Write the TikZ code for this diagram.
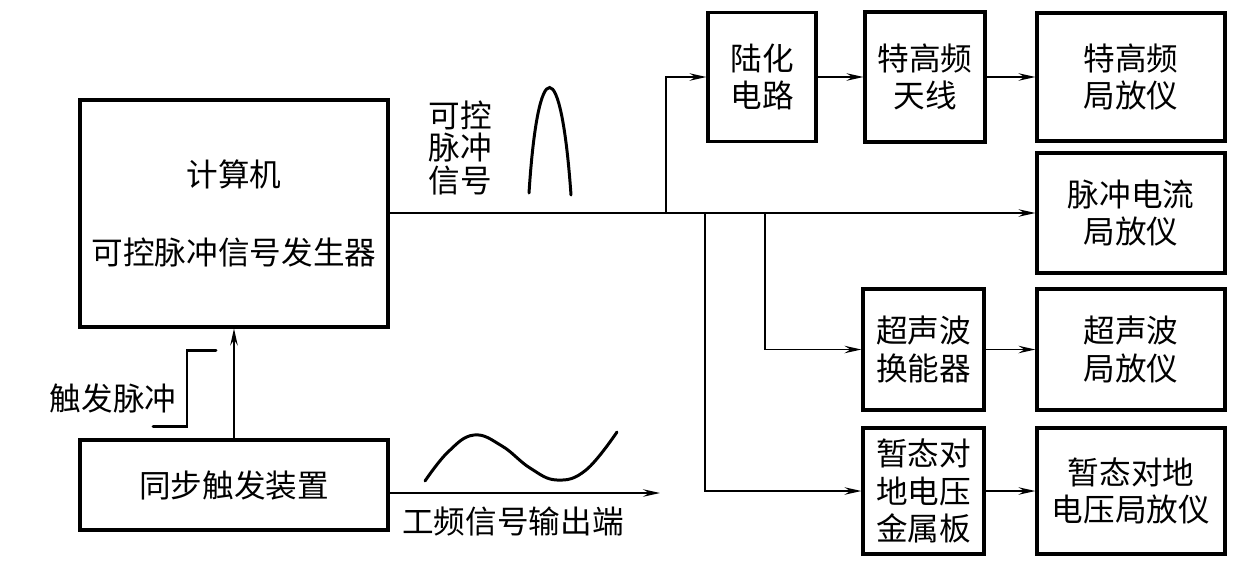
\documentclass[tikz,border=0pt]{standalone}
\usepackage{fontspec}
\setmainfont{Noto Sans CJK SC}
\usetikzlibrary{arrows.meta, positioning, calc}
\tikzset{
  every picture/.style={font=\fontsize{18}{21.5}\selectfont, line width=1pt},
  box/.style={draw, line width=1.8pt, align=center, inner sep=2pt, minimum width=#1},
  box/.default=2.42cm,
  arrow/.style={-{Stealth[length=3.4mm, width=1.5mm, inset=1.2mm]}, line width=1pt},
  wave/.style={line width=1.7pt, line cap=round},
  lbl/.style={align=center, inner sep=0pt},
}
\begin{document}
\begin{tikzpicture}[x=0.02cm, y=-0.02cm]
  \useasboundingbox (0,0) rectangle (1247,576);
  % left side
  \node[box=6.16cm, minimum height=4.54cm] (comp) at (234,213.5) {计算机\\[23pt]可控脉冲信号发生器};
  \node[box=6.16cm, minimum height=1.8cm] (sync) at (234,485) {同步触发装置};
  \draw[arrow] (sync.north) -- (comp.south);
  \draw[wave] (153,426) -- (187,426) -- (187,350) -- (216,350);
  \node[lbl] (trig) at (113,398) {触发脉冲};
  % power frequency output
  \coordinate (out) at (660,493);
  \draw[arrow] (sync.east |- out) -- (out);
  \draw[wave] plot[smooth, tension=0.7] coordinates {(425,481) (448,452) (474,435) (502,446) (530,468) (557,480) (586,470) (617,432)};
  \node[lbl] (pflbl) at (513,521) {工频信号输出端};
  % pulse signal
  \node[lbl, font=\fontsize{18}{18.5}\selectfont] (pulselbl) at (460,148) {可控\\脉冲\\信号};
  \draw[wave] (529,193) .. controls (538,52) and (561,52) .. (571,195);
  % detectors
  \node[box=2.16cm, minimum height=2.58cm] (luhua) at (762,77) {陆化\\电路};
  \node[box=2.4cm, minimum height=2.6cm] (uhf) at (925,77) {特高频\\天线};
  \node[box=3.76cm, minimum height=2.56cm] (uhfpd) at (1131,77) {特高频\\局放仪};
  \node[box=3.76cm, minimum height=2.4cm] (hfct) at (1131,213) {脉冲电流\\局放仪};
  \node[box, minimum height=2.42cm] (ae) at (923.5,349.5) {超声波\\换能器};
  \node[box=3.76cm, minimum height=2.42cm] (aepd) at (1131,349.5) {超声波\\局放仪};
  \node[box, minimum height=2.52cm] (tev) at (923.5,491) {暂态对\\地电压\\金属板};
  \node[box=3.76cm, minimum height=2.52cm] (tevpd) at (1131,491) {暂态对地\\电压局放仪};
  % main line and branches
  \coordinate (b1) at (666,213);
  \coordinate (b2) at (705,213);
  \coordinate (b3) at (765,213);
  \draw[arrow] (comp.east |- hfct.west) -- (hfct.west);
  \draw[arrow] (b1) |- (luhua.west);
  \draw[arrow] (b3) |- (ae.west);
  \draw[arrow] (b2) |- (tev.west);
  \draw[arrow] (luhua) -- (uhf);
  \draw[arrow] (uhf) -- (uhfpd);
  \draw[arrow] (ae) -- (aepd);
  \draw[arrow] (tev) -- (tevpd);
\end{tikzpicture}
\end{document}
